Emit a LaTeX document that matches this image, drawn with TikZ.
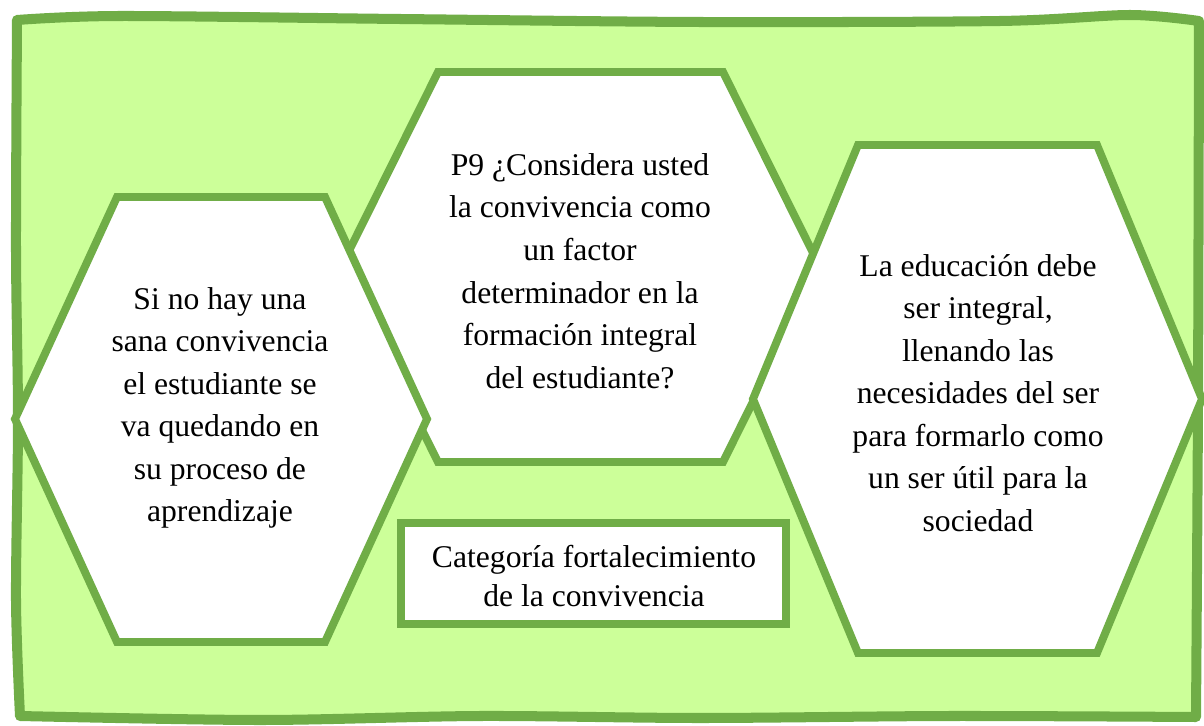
\documentclass[tikz,border=0pt]{standalone}
\usepackage{fontspec}
\IfFontExistsTF{LiberationSerif-Regular.ttf}
  {\setmainfont{LiberationSerif-Regular.ttf}[BoldFont=LiberationSerif-Bold.ttf]}
  {\setmainfont{Liberation Serif}}
\usepackage{tikz}
\usetikzlibrary{positioning}
\definecolor{framegreen}{RGB}{112,173,71}
\definecolor{backgreen}{RGB}{204,255,153}

\begin{document}
\begin{tikzpicture}[x=0.02cm,y=-0.02cm,
  hexa/.style={draw=framegreen,fill=white,line width=4.5pt,line join=miter},
  hextext/.style={align=center,font=\fontsize{18}{24.2}\selectfont,inner sep=0pt}]
\useasboundingbox (0,0) rectangle (1204,726);
% Wavy frame
\draw[framegreen,fill=backgreen,line width=5.7pt,line join=round]
  (17,20) -- plot[smooth,tension=0.5] coordinates {(17,20) (120,16) (400,19) (700,22) (1000,21) (1130,15) (1199,21)}
  -- plot[smooth,tension=0.5] coordinates {(1199,21) (1198,400) (1196,717)}
  -- plot[smooth,tension=0.5] coordinates {(1196,717) (950,716) (700,718) (480,716) (260,720) (20,716)}
  -- plot[smooth,tension=0.5] coordinates {(20,716) (16,600) (18,420) (16,250) (17,20)}
  -- cycle;

% Middle hexagon
\draw[hexa] (438,72) -- (723,72) -- (820,267) -- (723,462) -- (438,462) -- (341,267) -- cycle;
% Left hexagon
\draw[hexa] (117,197) -- (325,197) -- (427,419) -- (325,642) -- (117,642) -- (15,419) -- cycle;
% Right hexagon
\draw[hexa] (858,145) -- (1097,145) -- (1202,399) -- (1097,653) -- (858,653) -- (753,399) -- cycle;

\node[hextext] (midtext) at (580,271) {P9 ¿Considera usted\\la convivencia como\\un factor\\determinador en la\\formación integral\\del estudiante?};
\node[hextext] (lefttext) at (220,408) {Si no hay una\\sana convivencia\\el estudiante se\\va quedando en\\su proceso de\\aprendizaje};
\node[hextext] (righttext) at (978,393) {La educación debe\\ser integral,\\llenando las\\necesidades del ser\\para formarlo como\\un ser útil para la\\sociedad};

% Category box
\draw[framegreen,fill=white,line width=4pt] (401,523) rectangle (786,624);
\node[align=center,font=\fontsize{18}{22.7}\selectfont] (category) at (594,576) {Categoría fortalecimiento\\de la convivencia};
\end{tikzpicture}
\end{document}
